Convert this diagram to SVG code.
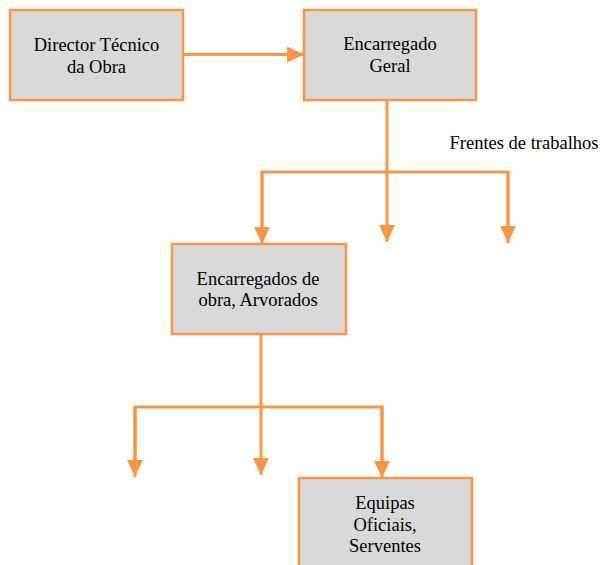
<svg xmlns="http://www.w3.org/2000/svg" width="601" height="565" viewBox="0 0 601 565">
<style>
.box{fill:#D9D9D9;stroke:#F79646;stroke-width:2.5}
.ln{fill:none;stroke:#F79646;stroke-width:3}
.t{font-family:'Liberation Serif','Times New Roman',serif;font-size:18.5px;fill:#000;text-anchor:middle}
</style>
<defs>
<marker id="ah" markerUnits="userSpaceOnUse" viewBox="0 0 17 16" refX="17" refY="8" markerWidth="17" markerHeight="16" orient="auto">
<path d="M0,0 L17,8 L0,16 z" fill="#F79646"/>
</marker>
</defs>
<rect width="601" height="565" fill="#fff"/>
<g id="connectors">
<line class="ln" x1="183" y1="54.5" x2="304" y2="54.5" marker-end="url(#ah)"/>
<polyline class="ln" points="387,100 387,172"/>
<polyline class="ln" points="262,226 262,172 508,172 508,226"/>
<line class="ln" x1="262" y1="172" x2="262" y2="244" marker-end="url(#ah)"/>
<line class="ln" x1="387" y1="172" x2="387" y2="242" marker-end="url(#ah)"/>
<line class="ln" x1="508" y1="172" x2="508" y2="243" marker-end="url(#ah)"/>
<polyline class="ln" points="261,334 261,407"/>
<polyline class="ln" points="135,460 135,407 382,407 382,460"/>
<line class="ln" x1="135" y1="407" x2="135" y2="477" marker-end="url(#ah)"/>
<line class="ln" x1="261" y1="407" x2="261" y2="475" marker-end="url(#ah)"/>
<line class="ln" x1="382" y1="407" x2="382" y2="478" marker-end="url(#ah)"/>
</g>
<g id="n1">
<rect class="box" x="10" y="10" width="173" height="90"/>
<text class="t" x="96.5" y="51">Director Técnico</text>
<text class="t" x="96.5" y="73">da Obra</text>
</g>
<g id="n2">
<rect class="box" x="304" y="10" width="172" height="90"/>
<text class="t" x="390" y="50">Encarregado</text>
<text class="t" x="390" y="72">Geral</text>
</g>
<g id="lbl">
<text class="t" x="524" y="149">Frentes de trabalhos</text>
</g>
<g id="n3">
<rect class="box" x="172" y="244" width="174" height="90"/>
<text class="t" x="258" y="285">Encarregados de</text>
<text class="t" x="258" y="306">obra, Arvorados</text>
</g>
<g id="n4">
<rect class="box" x="299" y="478" width="173" height="100"/>
<text class="t" x="385" y="509">Equipas</text>
<text class="t" x="385" y="531">Oficiais,</text>
<text class="t" x="385" y="552">Serventes</text>
</g>
</svg>
